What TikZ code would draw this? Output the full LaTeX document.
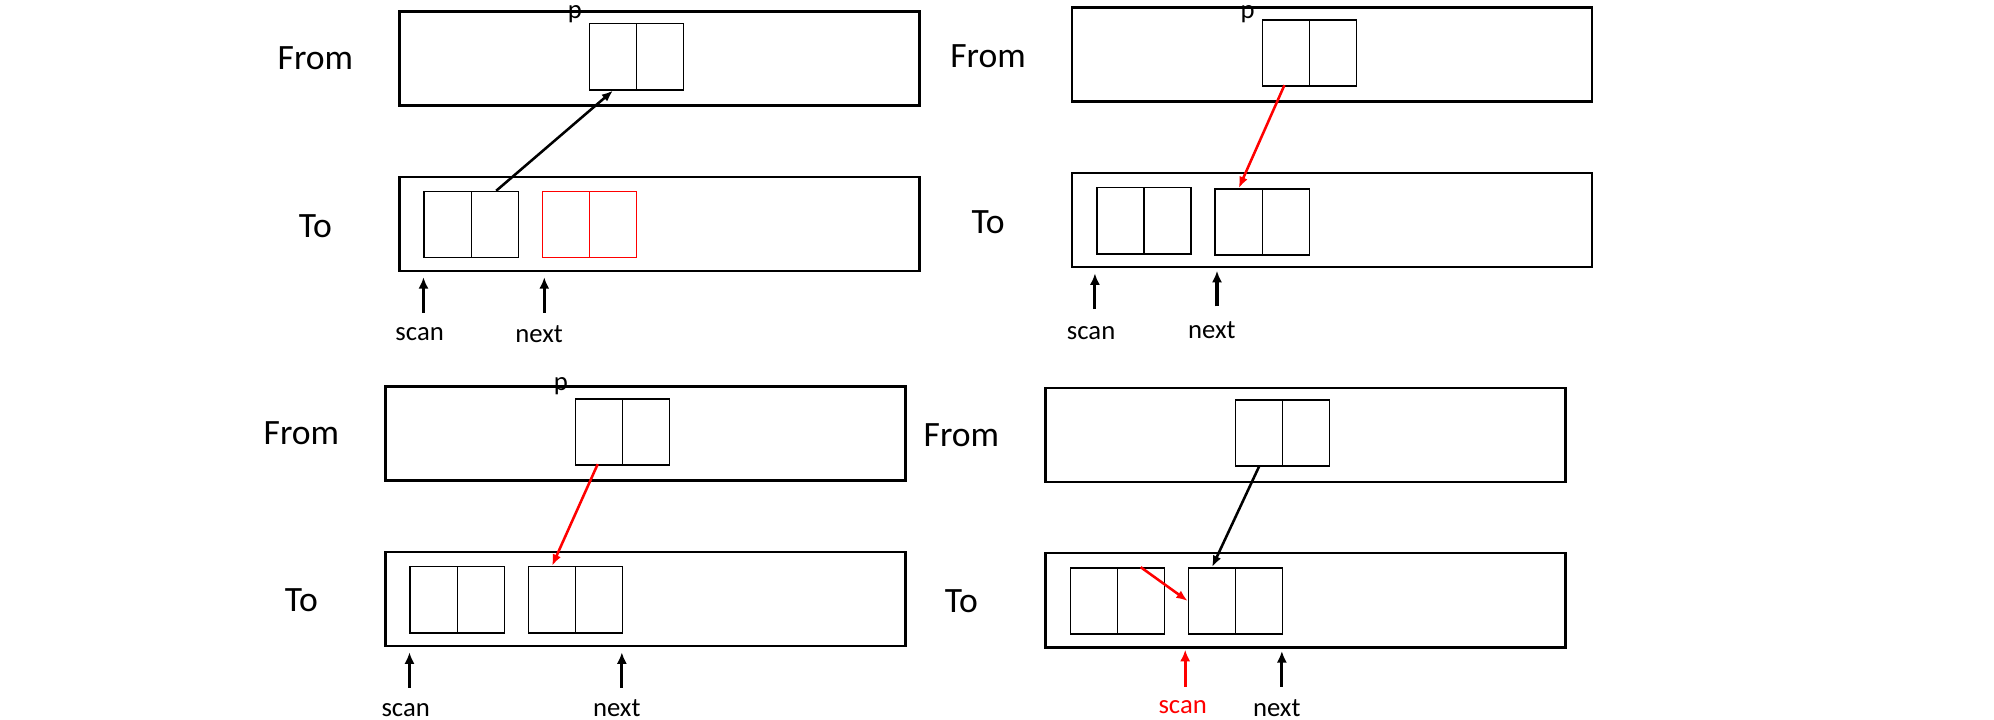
\documentclass[tikz,border=0pt]{standalone}
\usepackage{fontspec}
\setmainfont{Carlito}
\usetikzlibrary{arrows.meta}
\begin{document}
\begin{tikzpicture}[x=1pt,y=-1pt,
  area/.style={draw,line width=2pt,minimum width=409pt,minimum height=74pt,inner sep=0pt},
  cell/.style={draw,line width=1.2pt,minimum width=37pt,minimum height=52pt,inner sep=0pt},
  lab/.style={font=\fontsize{28}{30}\selectfont},
  small/.style={font=\fontsize{21}{23}\selectfont},
  ptr/.style={line width=2pt,-{Latex[length=9pt,width=7pt]}},
  ln/.style={line width=2.4pt,-{Latex[length=9pt,width=8pt]}}]
\useasboundingbox (0,0) rectangle (1568,566);
% panel TL
\node[area] (f1) at (518.5,46) {};
\node[lab] (fl1) at (248,46) {From};
\node[cell,anchor=north west] (p1a) at (463,18) {};
\node[cell,anchor=north west] (p1b) at (500,18) {};
\node[small] (pl1) at (452,11) {p};
\node[area] (t1) at (518.5,176) {};
\node[lab] (tl1) at (248,178) {To};
\node[cell,anchor=north west] (a1a) at (333,150) {};
\node[cell,anchor=north west] (a1b) at (370,150) {};
\node[cell,red,anchor=north west] (b1a) at (426,150) {};
\node[cell,red,anchor=north west] (b1b) at (463,150) {};
\draw[ptr] (a1b.north east) ++(-18,0) -- (p1a.south);
\node[small] (s1) at (330,263) {scan};
\node[small] (n1) at (424,263) {next};
\draw[ln] (333,246) -- (333,218);
\draw[ln] (428,246) -- (428,218);
% panel TR
\node[area] (f2) at (1047.5,43) {};
\node[lab] (fl2) at (777,44) {From};
\node[cell,anchor=north west] (p2a) at (992,15) {};
\node[cell,anchor=north west] (p2b) at (1029,15) {};
\node[small] (pl2) at (981,11) {p};
\node[area] (t2) at (1047.5,173) {};
\node[lab] (tl2) at (777,175) {To};
\node[cell,anchor=north west] (a2a) at (862,147) {};
\node[cell,anchor=north west] (a2b) at (899,147) {};
\node[cell,anchor=north west] (b2a) at (955,148) {};
\node[cell,anchor=north west] (b2b) at (992,148) {};
\draw[ptr,red] (1010,67) -- (b2a.north);
\node[small] (s2) at (858,262) {scan};
\node[small] (n2) at (953,260) {next};
\draw[ln] (861,243) -- (861,215);
\draw[ln] (957,241) -- (957,213);
% panel BL
\node[area] (f3) at (507.5,341) {};
\node[lab] (fl3) at (237,341) {From};
\node[cell,anchor=north west] (p3a) at (452,313) {};
\node[cell,anchor=north west] (p3b) at (489,313) {};
\node[small] (pl3) at (441,304) {p};
\node[area] (t3) at (507.5,471) {};
\node[lab] (tl3) at (237,472) {To};
\node[cell,anchor=north west] (a3a) at (322,445) {};
\node[cell,anchor=north west] (a3b) at (359,445) {};
\node[cell,anchor=north west] (b3a) at (415,445) {};
\node[cell,anchor=north west] (b3b) at (452,445) {};
\draw[ptr,red] (470,365) -- (b3a.north);
\node[small] (s3) at (319,558) {scan};
\node[small] (n3) at (485,557) {next};
\draw[ln] (322,541) -- (322,513);
\draw[ln] (489,541) -- (489,513);
% panel BR
\node[area] (f4) at (1026.5,342) {};
\node[lab] (fl4) at (756,342) {From};
\node[cell,anchor=north west] (p4a) at (971,314) {};
\node[cell,anchor=north west] (p4b) at (1008,314) {};
\node[area] (t4) at (1026.5,472) {};
\node[lab] (tl4) at (756,473) {To};
\node[cell,anchor=north west] (a4a) at (841,446) {};
\node[cell,anchor=north west] (a4b) at (878,446) {};
\node[cell,anchor=north west] (b4a) at (934,446) {};
\node[cell,anchor=north west] (b4b) at (971,446) {};
\draw[ptr] (990,367) -- (b4a.north);
\draw[ptr,red] (897,446) -- (b4a.west);
\node[small,red] (s4) at (930,556) {scan};
\node[small] (n4) at (1004,557) {next};
\draw[ln,red] (932,540) -- (932,511);
\draw[ln] (1008,540) -- (1008,512);
\end{tikzpicture}
\end{document}
